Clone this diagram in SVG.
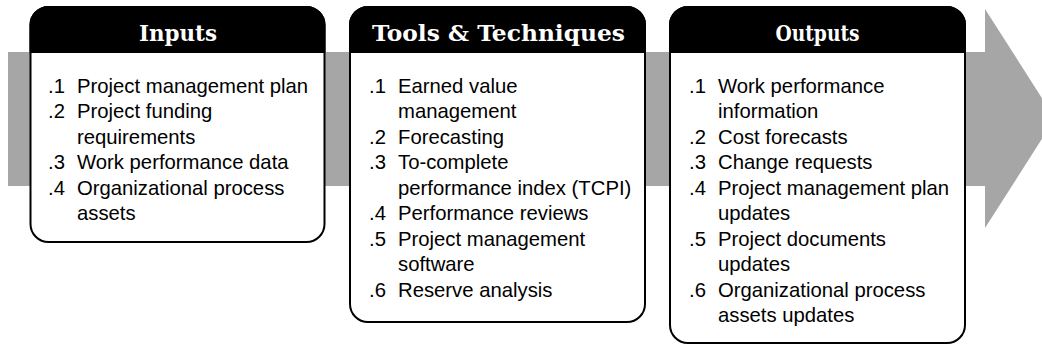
<svg xmlns="http://www.w3.org/2000/svg" width="1042" height="348" viewBox="0 0 1042 348">
  <style>
    .box { fill: #ffffff; stroke: #000000; stroke-width: 2; }
    .hdr { fill: #000000; stroke: #000000; stroke-width: 2; stroke-linejoin: round; }
    .title { font-family: "DejaVu Serif", "Liberation Serif", serif; font-weight: bold; font-size: 22px; fill: #ffffff; text-anchor: middle; }
    .item { font-family: "Liberation Sans", Arial, sans-serif; font-size: 20.3px; fill: #000000; }
    .flow { fill: #a6a6a6; }
  </style>
  <g id="connectors">
    <g id="flow-arrow">
      <rect class="flow" x="8" y="52" width="978" height="134"/>
      <polygon class="flow" points="985,9 1055,118.5 985,228"/>
    </g>
  </g>
  <g id="inputs">
    <rect class="box" x="30.5" y="7" width="294" height="235" rx="18" ry="18"/>
    <path class="hdr" d="M30.5,52 V25 A18,18 0 0 1 48.5,7 H306.5 A18,18 0 0 1 324.5,25 V52 Z"/>
    <text class="title" x="178" y="41" textLength="78" lengthAdjust="spacingAndGlyphs">Inputs</text>
    <g class="item">
      <text x="48" y="92.5">.1</text><text x="77" y="92.5">Project management plan</text>
      <text x="48" y="118">.2</text><text x="77" y="118">Project funding</text>
      <text x="77" y="143.5">requirements</text>
      <text x="48" y="169">.3</text><text x="77" y="169">Work performance data</text>
      <text x="48" y="194.5">.4</text><text x="77" y="194.5">Organizational process</text>
      <text x="77" y="220">assets</text>
    </g>
  </g>
  <g id="tools-techniques">
    <rect class="box" x="350" y="7" width="295" height="315" rx="18" ry="18"/>
    <path class="hdr" d="M350,52 V25 A18,18 0 0 1 368,7 H627 A18,18 0 0 1 645,25 V52 Z"/>
    <text class="title" x="498.5" y="41" textLength="253" lengthAdjust="spacingAndGlyphs">Tools &amp; Techniques</text>
    <g class="item">
      <text x="369" y="92.5">.1</text><text x="398" y="92.5">Earned value</text>
      <text x="398" y="118">management</text>
      <text x="369" y="143.5">.2</text><text x="398" y="143.5">Forecasting</text>
      <text x="369" y="169">.3</text><text x="398" y="169">To-complete</text>
      <text x="398" y="194.5">performance index (TCPI)</text>
      <text x="369" y="220">.4</text><text x="398" y="220">Performance reviews</text>
      <text x="369" y="245.5">.5</text><text x="398" y="245.5">Project management</text>
      <text x="398" y="271">software</text>
      <text x="369" y="296.5">.6</text><text x="398" y="296.5">Reserve analysis</text>
    </g>
  </g>
  <g id="outputs">
    <rect class="box" x="670" y="7" width="295" height="336" rx="18" ry="18"/>
    <path class="hdr" d="M670,52 V25 A18,18 0 0 1 688,7 H947 A18,18 0 0 1 965,25 V52 Z"/>
    <text class="title" x="817.5" y="41" textLength="84" lengthAdjust="spacingAndGlyphs">Outputs</text>
    <g class="item">
      <text x="689" y="92.5">.1</text><text x="718" y="92.5">Work performance</text>
      <text x="718" y="118">information</text>
      <text x="689" y="143.5">.2</text><text x="718" y="143.5">Cost forecasts</text>
      <text x="689" y="169">.3</text><text x="718" y="169">Change requests</text>
      <text x="689" y="194.5">.4</text><text x="718" y="194.5">Project management plan</text>
      <text x="718" y="220">updates</text>
      <text x="689" y="245.5">.5</text><text x="718" y="245.5">Project documents</text>
      <text x="718" y="271">updates</text>
      <text x="689" y="296.5">.6</text><text x="718" y="296.5">Organizational process</text>
      <text x="718" y="322">assets updates</text>
    </g>
  </g>
</svg>
